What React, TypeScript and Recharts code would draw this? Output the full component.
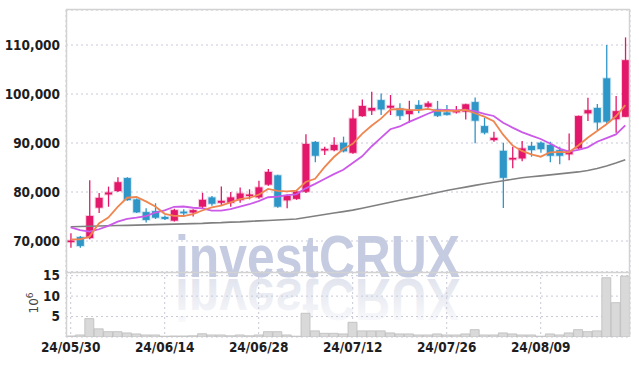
import React from 'react';
import { ComposedChart, BarChart, Bar, Line, XAxis, YAxis, CartesianGrid } from 'recharts';

const dates = [
  '24/05/30', '24/05/31', '24/06/03', '24/06/04', '24/06/05', '24/06/07', '24/06/10', '24/06/11', '24/06/12', '24/06/13',
  '24/06/14', '24/06/17', '24/06/18', '24/06/19', '24/06/20', '24/06/21', '24/06/24', '24/06/25', '24/06/26', '24/06/27',
  '24/06/28', '24/07/01', '24/07/02', '24/07/03', '24/07/04', '24/07/05', '24/07/08', '24/07/09', '24/07/10', '24/07/11',
  '24/07/12', '24/07/15', '24/07/16', '24/07/17', '24/07/18', '24/07/19', '24/07/22', '24/07/23', '24/07/24', '24/07/25',
  '24/07/26', '24/07/29', '24/07/30', '24/07/31', '24/08/01', '24/08/02', '24/08/05', '24/08/06', '24/08/07', '24/08/08',
  '24/08/09', '24/08/12', '24/08/13', '24/08/14', '24/08/16', '24/08/19', '24/08/20', '24/08/21', '24/08/22', '24/08/23',
];

const opens = [
  69800, 70800, 70600, 76800, 79500, 80200, 82850, 78500, 75900, 76100,
  74900, 74150, 76000, 75800, 77000, 78900, 77800, 77800, 78350, 79200,
  78900, 81500, 83400, 78300, 78600, 80050, 90200, 88500, 88550, 90050,
  88000, 95500, 96600, 98750, 97200, 97050, 95900, 97750, 97400, 96850,
  96250, 96250, 96400, 98350, 93450, 90600, 88400, 86650, 86850, 89400,
  90050, 89600, 88550, 87700, 88900, 96050, 97150, 103200, 94850, 95350,
];
const highs = [
  71600, 71000, 82400, 79800, 81100, 83000, 83000, 78700, 76700, 77700,
  75200, 76600, 76500, 76500, 79850, 79200, 81100, 80000, 80900, 80550,
  82300, 84700, 83500, 79500, 80300, 91800, 90400, 89250, 91150, 91300,
  96850, 98900, 100450, 100100, 99800, 98100, 98600, 98750, 98500, 98600,
  97750, 97550, 98000, 99300, 95150, 92300, 90050, 89250, 90400, 90250,
  90300, 90250, 89250, 91950, 95600, 99250, 97950, 110000, 99600, 111550,
];
const lows = [
  68600, 68600, 70350, 75700, 77000, 80000, 78200, 75700, 73800, 74500,
  74300, 74000, 74900, 75000, 76700, 77200, 77300, 77000, 77800, 78500,
  78600, 81300, 76800, 76700, 78400, 79800, 86050, 87550, 88300, 88100,
  87800, 95350, 95700, 95700, 95700, 94700, 94150, 96050, 97200, 95300,
  95600, 96000, 94800, 89950, 91750, 90250, 76750, 84850, 86300, 87200,
  88000, 86050, 85650, 86500, 88600, 94500, 92650, 94000, 92100, 95300,
];
const closes = [
  70100, 69000, 75100, 78800, 79900, 82000, 78350, 75850, 74300, 74750,
  74500, 76300, 75650, 76300, 78400, 77600, 78200, 78900, 79700, 79500,
  80950, 84100, 77000, 79200, 80100, 89800, 87400, 88800, 89600, 88300,
  95000, 97550, 97150, 96850, 97600, 95550, 96700, 96850, 98100, 95550,
  95750, 96600, 97900, 94550, 92100, 91050, 82900, 86950, 88900, 88550,
  88750, 87400, 87400, 88400, 95500, 96700, 94200, 94350, 96500, 106900,
];
// trading volume, in millions of shares
const volumes = [
  0.25, 0.5, 4.5, 2.0, 1.3, 1.3, 1.0, 0.75, 0.5, 0.5,
  0.2, 0.25, 0.25, 0.3, 0.8, 0.5, 0.5, 0.3, 0.5, 0.3,
  0.5, 1.3, 1.3, 0.5, 0.2, 5.8, 1.5, 0.9, 0.9, 0.75,
  3.6, 1.5, 1.5, 1.5, 1.0, 0.75, 0.75, 0.5, 0.5, 0.75,
  0.5, 0.5, 0.75, 1.8, 0.5, 0.5, 1.0, 0.75, 0.5, 0.5,
  0.2, 0.75, 0.5, 1.0, 1.8, 1.3, 1.5, 14.5, 8.4, 14.9,
];
const ma5 = [
  70350, 70350, 70900, 73600, 74800, 76960, 78830, 78980, 78080, 77050,
  75550, 75140, 75100, 75500, 76230, 76850, 77230, 77880, 78560, 78780,
  79450, 80630, 80250, 80150, 80270, 82040, 82700, 85060, 87140, 88780,
  89820, 91850, 93520, 94970, 96830, 96940, 96770, 96710, 96960, 96550,
  96590, 96570, 96780, 96070, 95380, 94440, 91700, 89510, 88380, 87670,
  87210, 88110, 88200, 88100, 89490, 91080, 92440, 93830, 95450, 97730,
];
const ma10 = [
  72800, 72200, 71900, 72400, 73100, 73950, 74500, 74750, 75100, 75815,
  76255, 76985, 77040, 76790, 76640, 76200, 76185, 76490, 77030, 77505,
  78150, 78930, 79065, 79355, 79525, 80745, 81665, 82655, 83645, 84525,
  85930, 87275, 89290, 91055, 92805, 93380, 94310, 95115, 95965, 96690,
  96765, 96670, 96745, 96515, 95965, 95515, 94135, 93145, 92225, 91525,
  90825, 89905, 88855, 88240, 88580, 89115, 90250, 90990, 91750, 93590,
];
const maLong = [
  72900, 72950, 73000, 73050, 73100, 73150, 73200, 73250, 73300, 73350,
  73400, 73450, 73500, 73550, 73600, 73700, 73750, 73850, 73900, 74000,
  74100, 74200, 74300, 74400, 74500, 74800, 75100, 75400, 75700, 76000,
  76300, 76700, 77100, 77500, 77900, 78300, 78700, 79100, 79500, 79900,
  80300, 80650, 81000, 81350, 81700, 82000, 82300, 82600, 82900, 83100,
  83300, 83500, 83700, 83900, 84100, 84400, 84800, 85300, 85900, 86600,
];

const priceTicks = [70000, 80000, 90000, 100000, 110000];
const volumeTicks = [5, 10, 15];
const dateTicks = ['24/05/30', '24/06/14', '24/06/28', '24/07/12', '24/07/26', '24/08/09'];

const data = dates.map((d, i) => ({
  date: d,
  open: opens[i],
  high: highs[i],
  low: lows[i],
  close: closes[i],
  range: [lows[i], highs[i]],
  vol: volumes[i],
  ma5: ma5[i],
  ma10: ma10[i],
  maLong: maLong[i],
}));

const UP = '#e3186a';
const DOWN = '#2f96c8';
const GRID = '#c8c8d8';
const FRAME = '#d2d2d2';
const tickStyle = { fontFamily: '"DejaVu Sans Condensed", "DejaVu Sans", sans-serif', fontWeight: 'bold', fontSize: 13.5, fill: '#1e1e1e' };

function Candle(props: any) {
  const { x, y, width, height, payload } = props;
  if (!payload) return null;
  const { open, close, high, low } = payload;
  const top0 = Math.min(y, y + height);
  const h = Math.abs(height);
  const ratio = high > low ? h / (high - low) : 0;
  const yOf = (v: number) => top0 + (high - v) * ratio;
  const cx = x + width / 2;
  const up = close >= open;
  const color = up ? UP : DOWN;
  const halo = up ? 'rgba(227,24,106,0.22)' : 'rgba(47,150,200,0.22)';
  const bt = yOf(Math.max(open, close));
  const bb = yOf(Math.min(open, close));
  const bw = 7;
  return (
    <g>
      <line x1={cx} x2={cx} y1={top0} y2={top0 + h} stroke={color} strokeWidth={1.3} />
      <rect x={cx - bw / 2} y={bt} width={bw} height={Math.max(bb - bt, 1.6)} fill={color} stroke={halo} strokeWidth={2} />
    </g>
  );
}

export default function App() {
  return (
    <div style={{ position: 'absolute', left: 0, top: 0, width: 639, height: 366, background: '#fff', overflow: 'hidden' }}>
      {/* watermark, behind the charts */}
      <svg width={639} height={366} style={{ position: 'absolute', left: 0, top: 0 }}>
        <defs>
          <linearGradient id="refl" x1="0" y1="0" x2="0" y2="1">
            <stop offset="0" stopColor="#d9dde9" stopOpacity={0} />
            <stop offset="0.45" stopColor="#d9dde9" stopOpacity={0.45} />
            <stop offset="1" stopColor="#d9dde9" stopOpacity={0.95} />
          </linearGradient>
        </defs>
        <text x={175} y={277} fontFamily='"Liberation Sans", Arial, sans-serif' fontWeight="bold" fontSize={60}
          fill="#c5cbe1" textLength={285} lengthAdjust="spacingAndGlyphs">investCRUX</text>
        <text x={175} y={277} transform="translate(0,556) scale(1,-1)" fontFamily='"Liberation Sans", Arial, sans-serif'
          fontWeight="bold" fontSize={60} fill="url(#refl)" textLength={285} lengthAdjust="spacingAndGlyphs">investCRUX</text>
        <text transform="translate(38,303) rotate(-90)" textAnchor="middle" fontFamily='"DejaVu Sans", sans-serif' fontSize={12} fill="#444">
          10<tspan dy={-5} fontSize={9}>6</tspan>
        </text>
      </svg>

      <div style={{ position: 'absolute', left: 0, top: 0 }}>
        <ComposedChart width={639} height={272} data={data} margin={{ top: 10, right: 9, bottom: 0, left: 6 }}>
          <CartesianGrid stroke={GRID} strokeDasharray="2 3" />
          <XAxis dataKey="date" ticks={dateTicks} interval={0} tick={false} axisLine={false} tickLine={false} height={0} />
          <YAxis domain={[63676, 117143]} ticks={priceTicks} interval={0} allowDataOverflow width={60} axisLine={false} tickLine={false}
            tickSize={0} tickMargin={6} tick={tickStyle} tickFormatter={(v: number) => v.toLocaleString('en-US')} />
          <Bar dataKey="range" shape={Candle} isAnimationActive={false} />
          <Line dataKey="maLong" stroke="#808080" strokeWidth={1.6} dot={false} isAnimationActive={false} />
          <Line dataKey="ma10" stroke="#cc5ae8" strokeWidth={1.8} dot={false} isAnimationActive={false} />
          <Line dataKey="ma5" stroke="#ef8650" strokeWidth={1.8} dot={false} isAnimationActive={false} />
        </ComposedChart>
      </div>

      <div style={{ position: 'absolute', left: 0, top: 262 }}>
        <BarChart width={639} height={104} data={data} margin={{ top: 10, right: 9, bottom: 0, left: 6 }} barCategoryGap={0}>
          <CartesianGrid stroke={GRID} strokeDasharray="2 3" />
          <XAxis dataKey="date" ticks={dateTicks} interval={0} axisLine={false} tickLine={false} height={29}
            tickSize={3} tickMargin={2} tick={tickStyle} />
          <YAxis domain={[0, 15.9]} ticks={volumeTicks} interval={0} allowDataOverflow width={60} axisLine={false} tickLine={false}
            tickSize={0} tickMargin={6} tick={tickStyle} />
          <Bar dataKey="vol" fill="#d9d9d9" stroke="#bdbdbd" strokeWidth={0.8} isAnimationActive={false} />
        </BarChart>
      </div>

      {/* panel frames */}
      <svg width={639} height={366} style={{ position: 'absolute', left: 0, top: 0, pointerEvents: 'none' }}>
        <line x1={66} x2={630} y1={9.5} y2={9.5} stroke={FRAME} strokeWidth={1.5} />
        <line x1={66.5} x2={66.5} y1={9} y2={337} stroke={FRAME} strokeWidth={1.5} />
        <line x1={629.5} x2={629.5} y1={9} y2={337} stroke={FRAME} strokeWidth={1.5} />
        <line x1={66} x2={630} y1={272.5} y2={272.5} stroke={FRAME} strokeWidth={1.5} />
      </svg>
    </div>
  );
}
